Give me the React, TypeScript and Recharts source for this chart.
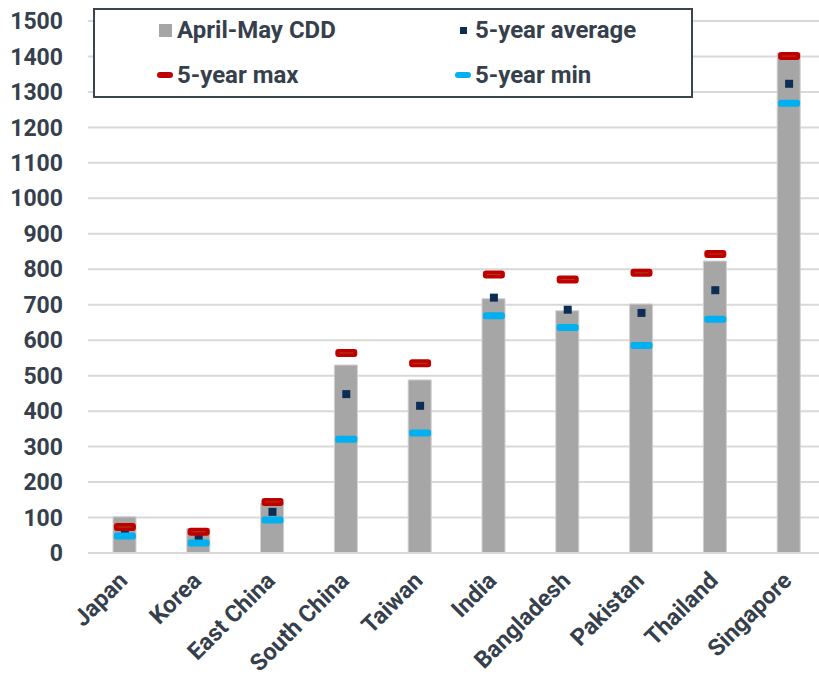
import { ComposedChart, Bar, Scatter, XAxis, YAxis, CartesianGrid, Legend } from 'recharts';

const categories = ['Japan', 'Korea', 'East China', 'South China', 'Taiwan', 'India', 'Bangladesh', 'Pakistan', 'Thailand', 'Singapore'];
const cdd = [102, 69, 140, 530, 488, 717, 683, 702, 823, 1410];
const avg5 = [59, 45, 116, 448, 415, 720, 686, 677, 741, 1323];
const max5 = [73, 60, 144, 564, 535, 785, 771, 790, 843, 1401];
const min5 = [48, 28, 93, 321, 338, 669, 636, 585, 659, 1268];
const yTicks = [0, 100, 200, 300, 400, 500, 600, 700, 800, 900, 1000, 1100, 1200, 1300, 1400, 1500];

const data = categories.map((c, i) => ({
  name: c,
  cdd: cdd[i],
  avg: avg5[i],
  max: max5[i],
  min: min5[i],
}));

const TEXT = '#363f4c';
const FONT = 'Roboto, sans-serif';

const MaxMark = (p: any) => (
  <g>
    <rect x={p.cx - 11} y={p.cy - 4} width={22} height={8} rx={3} fill="#c00000" />
    <line x1={p.cx - 7} x2={p.cx + 7} y1={p.cy} y2={p.cy} stroke="#a0401a" strokeWidth={1} />
  </g>
);
const MinMark = (p: any) => <rect x={p.cx - 11} y={p.cy - 3.5} width={22} height={7} rx={2.5} fill="#00b0f0" />;
const AvgMark = (p: any) => <rect x={p.cx - 4} y={p.cy - 4} width={8} height={8} fill="#0e2d55" />;

const XTick = (p: any) => {
  const x = p.x + 4;
  const y = p.y + 21;
  return (
    <text x={x} y={y} textAnchor="end" fontFamily={FONT} fontWeight="bold" fontSize={23.5} fill={TEXT}
      transform={`rotate(-45, ${x}, ${y})`}>
      {p.payload.value}
    </text>
  );
};

const LegendBox = () => {
  const item = (icon: any, label: string, left: number, top: number) => (
    <div style={{ position: 'absolute', left, top, display: 'flex', alignItems: 'center' }}>
      <div style={{ width: 20, display: 'flex', justifyContent: 'center' }}>{icon}</div>
      <span style={{ marginLeft: 2, fontFamily: FONT, fontWeight: 'bold', fontSize: 24, color: TEXT, lineHeight: '28px' }}>{label}</span>
    </div>
  );
  return (
    <div style={{ position: 'relative', width: 596, height: 86, border: '2px solid #3c4450', background: '#fff' }}>
      {item(<div style={{ width: 13, height: 13, background: '#a6a6a6' }} />, 'April-May CDD', 60, 6)}
      {item(<div style={{ width: 7, height: 7, background: '#0e2d55' }} />, '5-year average', 358, 6)}
      {item(<div style={{ width: 16, height: 6, borderRadius: 3, background: '#c00000' }} />, '5-year max', 60, 51)}
      {item(<div style={{ width: 16, height: 6, borderRadius: 3, background: '#00b0f0' }} />, '5-year min', 358, 51)}
    </div>
  );
};

export default function App() {
  return (
    <div style={{ position: 'absolute', left: 0, top: 0, width: 819, height: 675, overflow: 'hidden', background: '#fff' }}>
      <ComposedChart width={826} height={675} data={data} margin={{ top: 21, right: 0, left: 0, bottom: 0 }}>
        <CartesianGrid vertical={false} stroke="#d9d9d9" strokeWidth={2} />
        <XAxis dataKey="name" height={122} interval={0} tickLine={false} axisLine={{ stroke: '#d9d9d9', strokeWidth: 2 }} tick={<XTick />} />
        <YAxis width={88} domain={[0, 1500]} ticks={yTicks} interval={0} axisLine={false} tickLine={false} tickSize={0} tickMargin={25}
          tick={{ fontFamily: FONT, fontWeight: 'bold', fontSize: 23, fill: TEXT }} />
        <Legend layout="horizontal" verticalAlign="middle" align="center" content={() => <LegendBox />}
          wrapperStyle={{ left: 93, top: 8, width: 600, height: 90 }} />
        <Bar dataKey="cdd" name="April-May CDD" fill="#a6a6a6" stroke="#d0d0d0" strokeWidth={1} barSize={23} isAnimationActive={false} />
        <Scatter dataKey="avg" name="5-year average" shape={AvgMark} isAnimationActive={false} />
        <Scatter dataKey="min" name="5-year min" shape={MinMark} isAnimationActive={false} />
        <Scatter dataKey="max" name="5-year max" shape={MaxMark} isAnimationActive={false} />
      </ComposedChart>
    </div>
  );
}
